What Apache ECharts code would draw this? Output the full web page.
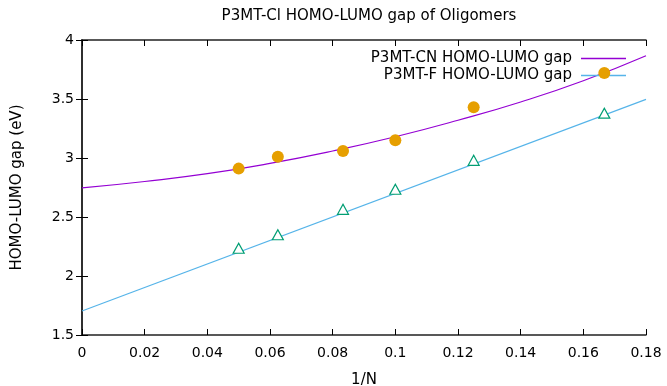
<!DOCTYPE html>
<html lang="en">
<head>
    <meta charset="UTF-8">
    <title>P3MT-Cl HOMO-LUMO gap of Oligomers</title>
    <script src="https://cdn.jsdelivr.net/npm/echarts@6/dist/echarts.min.js"></script>
    <style>
        html, body, #chart {
            width: 667px;
            height: 386px;
            padding: 0;
            margin: 0;
            background: #fff;
        }
    </style>
</head>
<body>
<div id="chart"></div>
<script>
    // measured points (1/N, gap)
    var cnX = [0.05, 0.0625, 0.0833, 0.1, 0.125, 0.1667];
    var cnGap = [2.91, 3.01, 3.06, 3.15, 3.43, 3.72];
    var fX = [0.05, 0.0625, 0.0833, 0.1, 0.125, 0.1667];
    var fGap = [2.235, 2.35, 2.565, 2.735, 2.98, 3.38];

    // fit curves
    var cnFitX = [0, 0.02, 0.04, 0.06, 0.08, 0.10, 0.12, 0.14, 0.16, 0.18];
    var cnFitY = [2.746, 2.801, 2.867, 2.954, 3.059, 3.180, 3.320, 3.475, 3.655, 3.867];
    var fFitX = [0, 0.18];
    var fFitY = [1.703, 3.497];

    function pairs(xs, ys) {
        return xs.map(function (x, i) { return [x, ys[i]]; });
    }

    var font = "DejaVu Sans";
    var myChart = echarts.init(document.getElementById("chart"));

    var tick = {show: true, inside: true, length: 6, lineStyle: {color: "#000", width: 1}};
    var line = {show: true, lineStyle: {color: "#222", width: 1.5}};
    var legendLine = "path://M0,0 L45,0 L45,1.3 L0,1.3 Z";

    myChart.setOption({
        animation: false,
        textStyle: {fontFamily: font},
        title: {
            text: "P3MT-Cl HOMO-LUMO gap of Oligomers",
            left: 364,
            textAlign: "center",
            top: 4,
            textStyle: {fontFamily: font, fontSize: 15, fontWeight: "normal", color: "#000"}
        },
        legend: {
            orient: "vertical",
            right: 36,
            top: 46,
            align: "right",
            itemWidth: 45,
            itemHeight: 14,
            itemGap: 2,
            textStyle: {fontFamily: font, fontSize: 15, color: "#000", padding: [0, 4, 0, 0]},
            data: [
                {name: "P3MT-CN HOMO-LUMO gap", icon: legendLine},
                {name: "P3MT-F HOMO-LUMO gap", icon: legendLine}
            ]
        },
        grid: {left: 82, right: 21, top: 40, bottom: 51, outerBoundsMode: "none"},
        xAxis: [{
            type: "value",
            min: 0,
            max: 0.18,
            interval: 0.02,
            name: "1/N",
            nameLocation: "middle",
            nameGap: 38,
            nameTextStyle: {fontFamily: font, fontSize: 15, color: "#000"},
            axisLine: line,
            axisTick: tick,
            splitLine: {show: false},
            axisLabel: {
                fontFamily: font, fontSize: 14, color: "#000", margin: 11,
                formatter: function (v) { return String(+v.toFixed(2)); }
            }
        }, {
            type: "value",
            position: "top",
            min: 0,
            max: 0.18,
            interval: 0.02,
            axisLine: line,
            axisTick: tick,
            splitLine: {show: false},
            axisLabel: {show: false}
        }],
        yAxis: [{
            type: "value",
            min: 1.5,
            max: 4,
            interval: 0.5,
            name: "HOMO-LUMO gap (eV)",
            nameLocation: "middle",
            nameGap: 57,
            nameTextStyle: {fontFamily: font, fontSize: 15, color: "#000"},
            axisLine: line,
            axisTick: tick,
            splitLine: {show: false},
            axisLabel: {fontFamily: font, fontSize: 14, color: "#000", margin: 8}
        }, {
            type: "value",
            position: "right",
            min: 1.5,
            max: 4,
            interval: 0.5,
            axisLine: line,
            axisTick: tick,
            splitLine: {show: false},
            axisLabel: {show: false}
        }],
        series: [{
            name: "P3MT-CN HOMO-LUMO gap",
            type: "line",
            smooth: true,
            symbol: "none",
            data: pairs(cnFitX, cnFitY),
            lineStyle: {color: "#9400D3", width: 1.2},
            itemStyle: {color: "#9400D3"},
            z: 2
        }, {
            name: "P3MT-F HOMO-LUMO gap",
            type: "line",
            symbol: "none",
            data: pairs(fFitX, fFitY),
            lineStyle: {color: "#56B4E9", width: 1.2},
            itemStyle: {color: "#56B4E9"},
            z: 2
        }, {
            name: "CN data",
            type: "scatter",
            symbol: "circle",
            symbolSize: 12,
            data: pairs(cnX, cnGap),
            itemStyle: {color: "#E69F00", opacity: 1},
            z: 5
        }, {
            name: "F data",
            type: "scatter",
            symbol: "triangle",
            symbolSize: [11, 10],
            data: pairs(fX, fGap),
            itemStyle: {color: "#fff", borderColor: "#009E73", borderWidth: 1.2, opacity: 1},
            z: 5
        }]
    });
</script>
</body>
</html>
